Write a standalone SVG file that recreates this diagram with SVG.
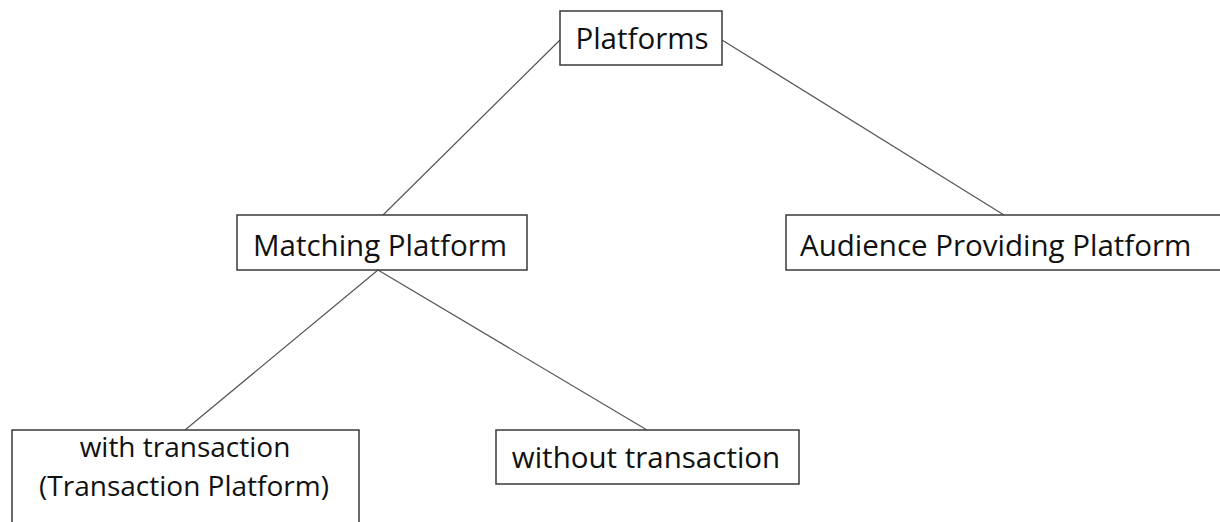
<svg xmlns="http://www.w3.org/2000/svg" width="1220" height="522" viewBox="0 0 1220 522">
<style>
.box{fill:#ffffff;stroke:#3a3a3a;stroke-width:1.5}
.lbl{font-family:"Open Sans","Liberation Sans",sans-serif;font-size:29.5px;fill:#111111}
.two{font-size:28px}
.c{text-anchor:middle}
.edge{stroke:#555555;stroke-width:1.2;fill:none}
</style>
<rect width="1220" height="522" fill="#ffffff"/>
<g id="connectors">
<line class="edge" x1="560" y1="40" x2="383" y2="215"/>
<line class="edge" x1="722" y1="40" x2="1004" y2="215"/>
<line class="edge" x1="378" y1="270" x2="185" y2="430"/>
<line class="edge" x1="378" y1="270" x2="647" y2="430"/>
</g>
<g id="platforms">
<rect class="box" x="560" y="11" width="162" height="54"/>
<text class="lbl c" x="642" y="49">Platforms</text>
</g>
<g id="matching">
<rect class="box" x="237" y="215" width="290" height="55"/>
<text class="lbl c" x="380" y="256">Matching Platform</text>
</g>
<g id="audience">
<rect class="box" x="786" y="215" width="440" height="55"/>
<text class="lbl" x="800" y="256">Audience Providing Platform</text>
</g>
<g id="with">
<rect class="box" x="12" y="430" width="347" height="100"/>
<text class="lbl two c" x="185" y="457">with transaction</text>
<text class="lbl two c" x="184" y="496">(Transaction Platform)</text>
</g>
<g id="without">
<rect class="box" x="496" y="430" width="303" height="54"/>
<text class="lbl c" x="646" y="468">without transaction</text>
</g>
</svg>
